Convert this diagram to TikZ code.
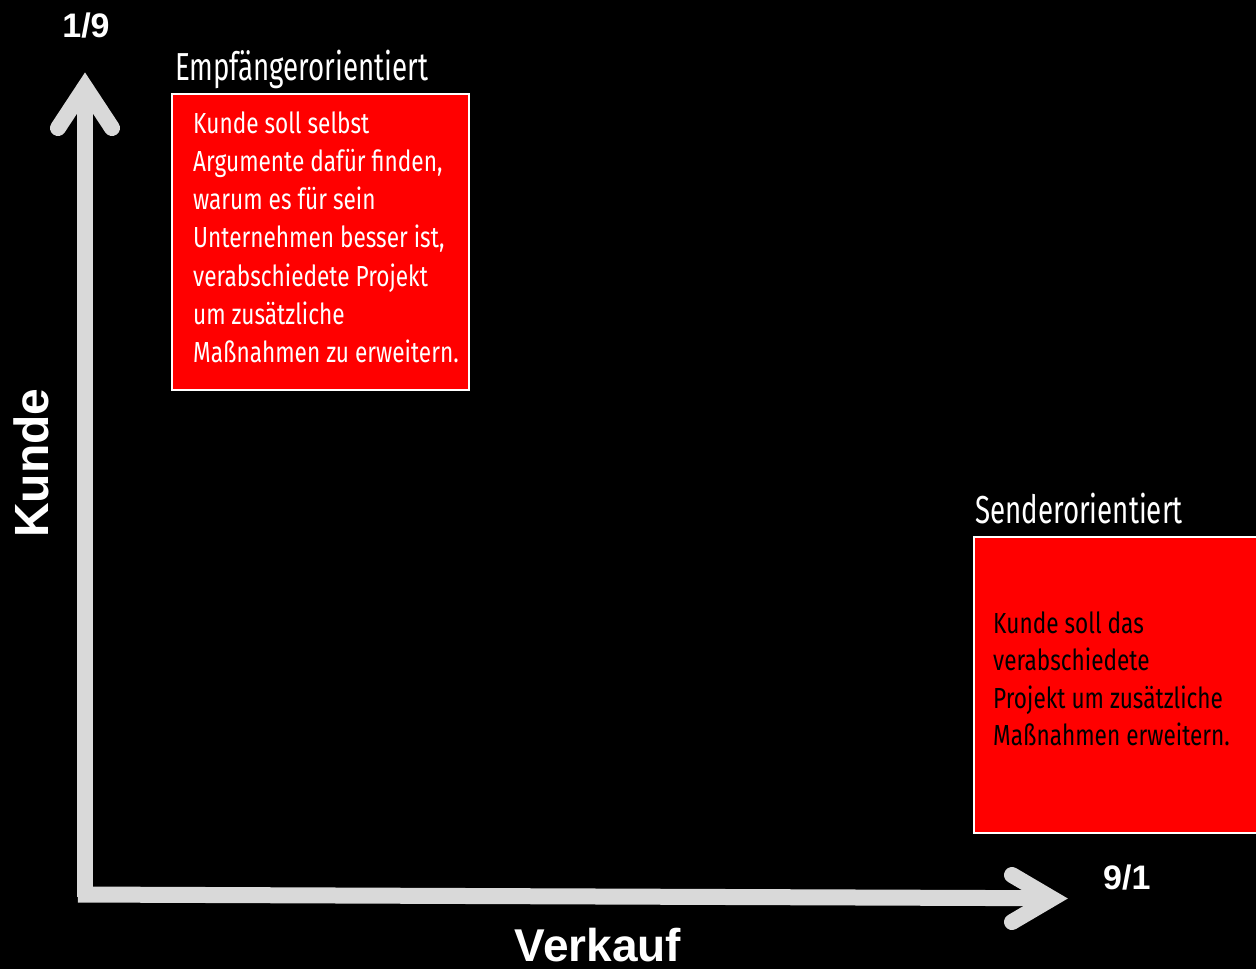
\documentclass[tikz,border=0pt]{standalone}
\usepackage{fontspec}
\setmainfont{Liberation Sans}
\newfontfamily\condbody[FakeStretch=0.78]{Fira Sans}
\newfontfamily\condtitle[FakeStretch=0.71]{Fira Sans}
\definecolor{axisgray}{HTML}{D9D9D9}
\definecolor{boxred}{HTML}{FF0000}
\begin{document}
\begin{tikzpicture}[x=1pt,y=-1pt,
  axisline/.style={draw=axisgray,line width=16pt,line cap=butt},
  arrowhead/.style={draw=axisgray,line width=16pt,line cap=round,line join=miter,miter limit=10},
  redbox/.style={draw=white,line width=2pt,fill=boxred,inner sep=0pt,anchor=north west},
  boxtext/.style={inner sep=0pt,anchor=base west,align=left},
  title/.style={inner sep=0pt,anchor=base west,text=white,font=\condtitle\fontsize{39}{40}\selectfont},
  bold/.style={inner sep=0pt,text=white,font=\bfseries\fontsize{34}{36}\selectfont}]
\fill[black] (0,0) rectangle (1256,969);
\clip (0,0) rectangle (1256,969);
% axes
\coordinate (origin) at (85,897);
\coordinate (ytip) at (85,87);
\coordinate (xstart) at (78,894.5);
\coordinate (xtip) at (1052,898.5);
\draw[axisline] (origin) -- (85,100);
\draw[arrowhead] (58,128) -- (ytip) -- (112,128);
\draw[axisline] (xstart) -- (1040,898.2);
\draw[arrowhead] (1012,875) -- (xtip) -- (1012,922);
% labels
\node[bold,anchor=base] (l19) at (86,37) {1/9};
\node[bold,anchor=base west] (l91) at (1103,889) {9/1};
\node[bold,font=\bfseries\fontsize{48}{50}\selectfont,rotate=90,anchor=base] (kunde) at (48,463) {Kunde};
\node[bold,font=\bfseries\fontsize{46}{48}\selectfont,anchor=base] (verkauf) at (598,961) {Verkauf};
% boxes
\node[redbox,minimum width=297pt,minimum height=296pt] (box1) at (171,93) {};
\node[title] (t1) at (175,80) {Empfängerorientiert};
\node[boxtext,text=white,font=\condbody\fontsize{29}{38.3}\selectfont] (b1) at (193,362.8) {Kunde soll selbst\\Argumente dafür finden,\\warum es für sein\\Unternehmen besser ist,\\verabschiedete Projekt\\um zusätzliche\\Maßnahmen zu erweitern.};
\node[redbox,minimum width=300pt,minimum height=296pt] (box2) at (973,536) {};
\node[title] (t2) at (975,523) {Senderorientiert};
\node[boxtext,text=black,font=\condbody\fontsize{29}{37.5}\selectfont] (b2) at (993,745.5) {Kunde soll das\\verabschiedete\\Projekt um zusätzliche\\Maßnahmen erweitern.};
\end{tikzpicture}
\end{document}
